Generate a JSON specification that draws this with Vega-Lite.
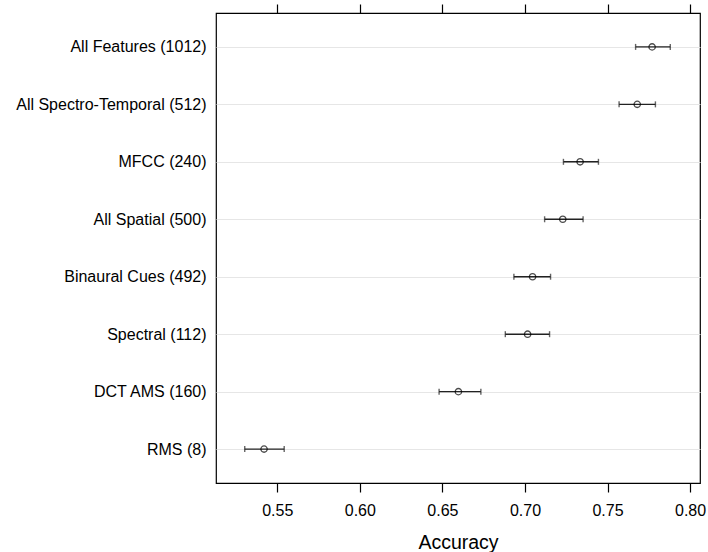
{
  "$schema": "https://vega.github.io/schema/vega-lite/v6.json",
  "width": 484,
  "height": 470,
  "autosize": "none",
  "padding": {"left": 216, "top": 13, "right": 8, "bottom": 69},
  "background": "white",
  "config": {
    "font": "Liberation Sans",
    "view": {"stroke": "black", "strokeWidth": 1.2}
  },
  "data": {
    "values": [
      {"feature": "All Features (1012)", "acc": 0.777, "lo": 0.767, "hi": 0.788},
      {"feature": "All Spectro-Temporal (512)", "acc": 0.768, "lo": 0.757, "hi": 0.779},
      {"feature": "MFCC (240)", "acc": 0.7334, "lo": 0.7233, "hi": 0.7445},
      {"feature": "All Spatial (500)", "acc": 0.7229, "lo": 0.7119, "hi": 0.7352},
      {"feature": "Binaural Cues (492)", "acc": 0.7046, "lo": 0.6933, "hi": 0.7155},
      {"feature": "Spectral (112)", "acc": 0.7016, "lo": 0.6881, "hi": 0.7149},
      {"feature": "DCT AMS (160)", "acc": 0.6597, "lo": 0.648, "hi": 0.6733},
      {"feature": "RMS (8)", "acc": 0.542, "lo": 0.5303, "hi": 0.5542}
    ]
  },
  "encoding": {
    "y": {
      "field": "feature",
      "type": "nominal",
      "sort": null,
      "scale": {"type": "point", "padding": 0.59},
      "axis": {
        "title": null,
        "ticks": false,
        "domain": false,
        "grid": true,
        "gridColor": "#e6e6e6",
        "gridWidth": 1.2,
        "labelFontSize": 16,
        "labelPadding": 10,
        "labelLimit": 400,
        "labelColor": "black"
      }
    }
  },
  "layer": [
    {
      "mark": {"type": "rule", "color": "#222", "strokeWidth": 1.4},
      "encoding": {
        "x": {
          "field": "lo",
          "type": "quantitative",
          "scale": {"domain": [0.5129, 0.806], "nice": false, "zero": false},
          "axis": {
            "orient": "bottom",
            "title": "Accuracy",
            "titleFontSize": 19.5,
            "titleFontWeight": "normal",
            "titleColor": "black",
            "titlePadding": 15,
            "values": [0.55, 0.6, 0.65, 0.7, 0.75, 0.8],
            "format": ".2f",
            "grid": false,
            "domain": false,
            "tickSize": 9,
            "tickColor": "black",
            "tickWidth": 1.2,
            "labelFontSize": 16,
            "labelColor": "black",
            "labelPadding": 10,
            "labelFlush": false
          }
        },
        "x2": {"field": "hi"}
      }
    },
    {
      "mark": {"type": "tick", "orient": "vertical", "size": 6, "color": "#222", "thickness": 1.4},
      "encoding": {
        "x": {
          "field": "lo",
          "type": "quantitative",
          "axis": {
            "orient": "top",
            "title": null,
            "labels": false,
            "values": [0.55, 0.6, 0.65, 0.7, 0.75, 0.8],
            "grid": false,
            "domain": false,
            "tickSize": 9,
            "tickColor": "black",
            "tickWidth": 1.2
          }
        }
      }
    },
    {
      "mark": {"type": "tick", "orient": "vertical", "size": 6, "color": "#222", "thickness": 1.4},
      "encoding": {
        "x": {"field": "hi", "type": "quantitative", "axis": null}
      }
    },
    {
      "mark": {"type": "point", "shape": "circle", "filled": false, "size": 40, "color": "black", "strokeWidth": 1.3},
      "encoding": {
        "x": {"field": "acc", "type": "quantitative", "axis": null}
      }
    }
  ],
  "resolve": {"axis": {"x": "independent"}}
}
